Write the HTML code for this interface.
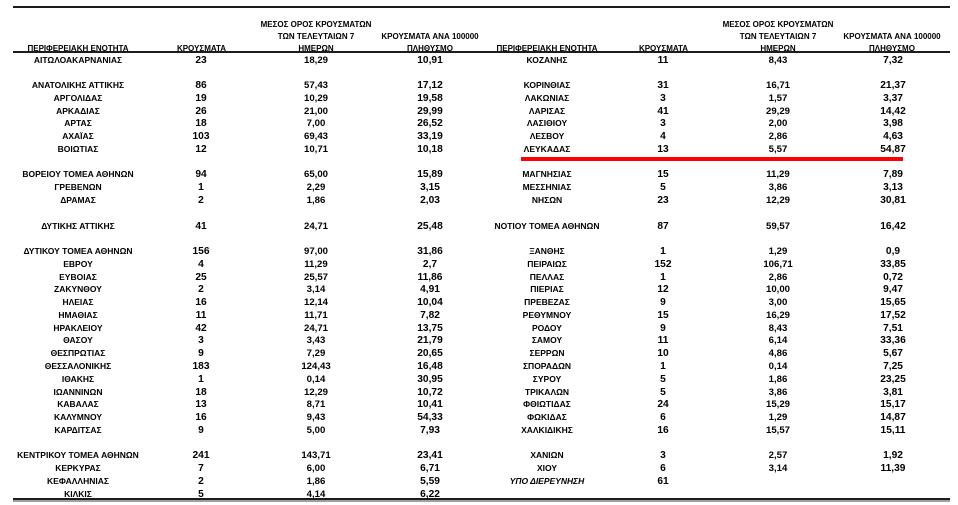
<!DOCTYPE html>
<html>
<head>
<meta charset="utf-8">
<style>
  html,body{margin:0;padding:0;background:#fff;}
  body{width:958px;height:505px;position:relative;overflow:hidden;
       font-family:"Liberation Sans","DejaVu Sans",sans-serif;color:#000;}
  .ln{position:absolute;background:#1c1c1c;}
  .h{position:absolute;width:200px;margin-left:-100px;text-align:center;
     font-size:8px;font-weight:bold;line-height:12px;white-space:nowrap;margin-top:1.5px;}
  .row{position:absolute;height:12px;line-height:12px;font-size:10px;white-space:nowrap;font-weight:bold;}
  .L{left:0;}
  .R{left:469px;}
  .row span{display:inline-block;text-align:center;vertical-align:baseline;overflow:visible;}
  .n{font-size:8.5px;}
  .k{font-size:10.2px;}
  .m{font-size:9.6px;}
  .p{font-size:10.2px;}
  .L .n{width:156px}.L .k{width:90px}.L .m{width:140px}.L .p{width:88px}
  .R .n{width:156px}.R .k{width:76px}.R .m{width:154px}.R .p{width:76px}
  .i{font-style:italic;}
</style>
</head>
<body>
<div class="ln" style="left:13px;top:6px;width:937px;height:2px;"></div>
<div class="ln" style="left:13px;top:51px;width:937px;height:2px;"></div>
<div class="ln" style="left:13px;top:498px;width:937px;height:2px;"></div>
<div style="position:absolute;left:13px;top:500px;width:937px;height:2px;background:#a0a0a0;"></div>
<div style="position:absolute;left:521px;top:157px;width:382px;height:4px;background:#ff0000;"></div>

<!-- headers left -->
<div class="h" style="left:78px;top:41px;">ΠΕΡΙΦΕΡΕΙΑΚΗ ΕΝΟΤΗΤΑ</div>
<div class="h" style="left:201.5px;top:41px;">ΚΡΟΥΣΜΑΤΑ</div>
<div class="h" style="left:316px;top:17px;">ΜΕΣΟΣ ΟΡΟΣ ΚΡΟΥΣΜΑΤΩΝ</div>
<div class="h" style="left:316px;top:29px;">ΤΩΝ ΤΕΛΕΥΤΑΙΩΝ 7</div>
<div class="h" style="left:316px;top:41px;">ΗΜΕΡΩΝ</div>
<div class="h" style="left:430px;top:29px;">ΚΡΟΥΣΜΑΤΑ ΑΝΑ 100000</div>
<div class="h" style="left:430px;top:41px;">ΠΛΗΘΥΣΜΟ</div>
<!-- headers right -->
<div class="h" style="left:547px;top:41px;">ΠΕΡΙΦΕΡΕΙΑΚΗ ΕΝΟΤΗΤΑ</div>
<div class="h" style="left:663.5px;top:41px;">ΚΡΟΥΣΜΑΤΑ</div>
<div class="h" style="left:778px;top:17px;">ΜΕΣΟΣ ΟΡΟΣ ΚΡΟΥΣΜΑΤΩΝ</div>
<div class="h" style="left:778px;top:29px;">ΤΩΝ ΤΕΛΕΥΤΑΙΩΝ 7</div>
<div class="h" style="left:778px;top:41px;">ΗΜΕΡΩΝ</div>
<div class="h" style="left:892px;top:29px;">ΚΡΟΥΣΜΑΤΑ ΑΝΑ 100000</div>
<div class="h" style="left:892px;top:41px;">ΠΛΗΘΥΣΜΟ</div>

<!-- left rows -->
<div class="row L" style="top:53.5px"><span class="n">ΑΙΤΩΛΟΑΚΑΡΝΑΝΙΑΣ</span><span class="k">23</span><span class="m">18,29</span><span class="p">10,91</span></div>
<div class="row L" style="top:79px"><span class="n">ΑΝΑΤΟΛΙΚΗΣ ΑΤΤΙΚΗΣ</span><span class="k">86</span><span class="m">57,43</span><span class="p">17,12</span></div>
<div class="row L" style="top:91.8px"><span class="n">ΑΡΓΟΛΙΔΑΣ</span><span class="k">19</span><span class="m">10,29</span><span class="p">19,58</span></div>
<div class="row L" style="top:104.6px"><span class="n">ΑΡΚΑΔΙΑΣ</span><span class="k">26</span><span class="m">21,00</span><span class="p">29,99</span></div>
<div class="row L" style="top:117.4px"><span class="n">ΑΡΤΑΣ</span><span class="k">18</span><span class="m">7,00</span><span class="p">26,52</span></div>
<div class="row L" style="top:130.1px"><span class="n">ΑΧΑΪΑΣ</span><span class="k">103</span><span class="m">69,43</span><span class="p">33,19</span></div>
<div class="row L" style="top:142.9px"><span class="n">ΒΟΙΩΤΙΑΣ</span><span class="k">12</span><span class="m">10,71</span><span class="p">10,18</span></div>
<div class="row L" style="top:168.4px"><span class="n">ΒΟΡΕΙΟΥ ΤΟΜΕΑ ΑΘΗΝΩΝ</span><span class="k">94</span><span class="m">65,00</span><span class="p">15,89</span></div>
<div class="row L" style="top:181.2px"><span class="n">ΓΡΕΒΕΝΩΝ</span><span class="k">1</span><span class="m">2,29</span><span class="p">3,15</span></div>
<div class="row L" style="top:194px"><span class="n">ΔΡΑΜΑΣ</span><span class="k">2</span><span class="m">1,86</span><span class="p">2,03</span></div>
<div class="row L" style="top:219.5px"><span class="n">ΔΥΤΙΚΗΣ ΑΤΤΙΚΗΣ</span><span class="k">41</span><span class="m">24,71</span><span class="p">25,48</span></div>
<div class="row L" style="top:245px"><span class="n">ΔΥΤΙΚΟΥ ΤΟΜΕΑ ΑΘΗΝΩΝ</span><span class="k">156</span><span class="m">97,00</span><span class="p">31,86</span></div>
<div class="row L" style="top:257.8px"><span class="n">ΕΒΡΟΥ</span><span class="k">4</span><span class="m">11,29</span><span class="p">2,7</span></div>
<div class="row L" style="top:270.6px"><span class="n">ΕΥΒΟΙΑΣ</span><span class="k">25</span><span class="m">25,57</span><span class="p">11,86</span></div>
<div class="row L" style="top:283.4px"><span class="n">ΖΑΚΥΝΘΟΥ</span><span class="k">2</span><span class="m">3,14</span><span class="p">4,91</span></div>
<div class="row L" style="top:296.1px"><span class="n">ΗΛΕΙΑΣ</span><span class="k">16</span><span class="m">12,14</span><span class="p">10,04</span></div>
<div class="row L" style="top:308.9px"><span class="n">ΗΜΑΘΙΑΣ</span><span class="k">11</span><span class="m">11,71</span><span class="p">7,82</span></div>
<div class="row L" style="top:321.7px"><span class="n">ΗΡΑΚΛΕΙΟΥ</span><span class="k">42</span><span class="m">24,71</span><span class="p">13,75</span></div>
<div class="row L" style="top:334.4px"><span class="n">ΘΑΣΟΥ</span><span class="k">3</span><span class="m">3,43</span><span class="p">21,79</span></div>
<div class="row L" style="top:347.2px"><span class="n">ΘΕΣΠΡΩΤΙΑΣ</span><span class="k">9</span><span class="m">7,29</span><span class="p">20,65</span></div>
<div class="row L" style="top:360px"><span class="n">ΘΕΣΣΑΛΟΝΙΚΗΣ</span><span class="k">183</span><span class="m">124,43</span><span class="p">16,48</span></div>
<div class="row L" style="top:372.8px"><span class="n">ΙΘΑΚΗΣ</span><span class="k">1</span><span class="m">0,14</span><span class="p">30,95</span></div>
<div class="row L" style="top:385.5px"><span class="n">ΙΩΑΝΝΙΝΩΝ</span><span class="k">18</span><span class="m">12,29</span><span class="p">10,72</span></div>
<div class="row L" style="top:398.3px"><span class="n">ΚΑΒΑΛΑΣ</span><span class="k">13</span><span class="m">8,71</span><span class="p">10,41</span></div>
<div class="row L" style="top:411.1px"><span class="n">ΚΑΛΥΜΝΟΥ</span><span class="k">16</span><span class="m">9,43</span><span class="p">54,33</span></div>
<div class="row L" style="top:423.8px"><span class="n">ΚΑΡΔΙΤΣΑΣ</span><span class="k">9</span><span class="m">5,00</span><span class="p">7,93</span></div>
<div class="row L" style="top:449.4px"><span class="n">ΚΕΝΤΡΙΚΟΥ ΤΟΜΕΑ ΑΘΗΝΩΝ</span><span class="k">241</span><span class="m">143,71</span><span class="p">23,41</span></div>
<div class="row L" style="top:462.1px"><span class="n">ΚΕΡΚΥΡΑΣ</span><span class="k">7</span><span class="m">6,00</span><span class="p">6,71</span></div>
<div class="row L" style="top:474.9px"><span class="n">ΚΕΦΑΛΛΗΝΙΑΣ</span><span class="k">2</span><span class="m">1,86</span><span class="p">5,59</span></div>
<div class="row L" style="top:487.7px"><span class="n">ΚΙΛΚΙΣ</span><span class="k">5</span><span class="m">4,14</span><span class="p">6,22</span></div>

<!-- right rows -->
<div class="row R" style="top:53.5px"><span class="n">ΚΟΖΑΝΗΣ</span><span class="k">11</span><span class="m">8,43</span><span class="p">7,32</span></div>
<div class="row R" style="top:79px"><span class="n">ΚΟΡΙΝΘΙΑΣ</span><span class="k">31</span><span class="m">16,71</span><span class="p">21,37</span></div>
<div class="row R" style="top:91.8px"><span class="n">ΛΑΚΩΝΙΑΣ</span><span class="k">3</span><span class="m">1,57</span><span class="p">3,37</span></div>
<div class="row R" style="top:104.6px"><span class="n">ΛΑΡΙΣΑΣ</span><span class="k">41</span><span class="m">29,29</span><span class="p">14,42</span></div>
<div class="row R" style="top:117.4px"><span class="n">ΛΑΣΙΘΙΟΥ</span><span class="k">3</span><span class="m">2,00</span><span class="p">3,98</span></div>
<div class="row R" style="top:130.1px"><span class="n">ΛΕΣΒΟΥ</span><span class="k">4</span><span class="m">2,86</span><span class="p">4,63</span></div>
<div class="row R" style="top:142.9px"><span class="n">ΛΕΥΚΑΔΑΣ</span><span class="k">13</span><span class="m">5,57</span><span class="p">54,87</span></div>
<div class="row R" style="top:168.4px"><span class="n">ΜΑΓΝΗΣΙΑΣ</span><span class="k">15</span><span class="m">11,29</span><span class="p">7,89</span></div>
<div class="row R" style="top:181.2px"><span class="n">ΜΕΣΣΗΝΙΑΣ</span><span class="k">5</span><span class="m">3,86</span><span class="p">3,13</span></div>
<div class="row R" style="top:194px"><span class="n">ΝΗΣΩΝ</span><span class="k">23</span><span class="m">12,29</span><span class="p">30,81</span></div>
<div class="row R" style="top:219.5px"><span class="n">ΝΟΤΙΟΥ ΤΟΜΕΑ ΑΘΗΝΩΝ</span><span class="k">87</span><span class="m">59,57</span><span class="p">16,42</span></div>
<div class="row R" style="top:245px"><span class="n">ΞΑΝΘΗΣ</span><span class="k">1</span><span class="m">1,29</span><span class="p">0,9</span></div>
<div class="row R" style="top:257.8px"><span class="n">ΠΕΙΡΑΙΩΣ</span><span class="k">152</span><span class="m">106,71</span><span class="p">33,85</span></div>
<div class="row R" style="top:270.6px"><span class="n">ΠΕΛΛΑΣ</span><span class="k">1</span><span class="m">2,86</span><span class="p">0,72</span></div>
<div class="row R" style="top:283.4px"><span class="n">ΠΙΕΡΙΑΣ</span><span class="k">12</span><span class="m">10,00</span><span class="p">9,47</span></div>
<div class="row R" style="top:296.1px"><span class="n">ΠΡΕΒΕΖΑΣ</span><span class="k">9</span><span class="m">3,00</span><span class="p">15,65</span></div>
<div class="row R" style="top:308.9px"><span class="n">ΡΕΘΥΜΝΟΥ</span><span class="k">15</span><span class="m">16,29</span><span class="p">17,52</span></div>
<div class="row R" style="top:321.7px"><span class="n">ΡΟΔΟΥ</span><span class="k">9</span><span class="m">8,43</span><span class="p">7,51</span></div>
<div class="row R" style="top:334.4px"><span class="n">ΣΑΜΟΥ</span><span class="k">11</span><span class="m">6,14</span><span class="p">33,36</span></div>
<div class="row R" style="top:347.2px"><span class="n">ΣΕΡΡΩΝ</span><span class="k">10</span><span class="m">4,86</span><span class="p">5,67</span></div>
<div class="row R" style="top:360px"><span class="n">ΣΠΟΡΑΔΩΝ</span><span class="k">1</span><span class="m">0,14</span><span class="p">7,25</span></div>
<div class="row R" style="top:372.8px"><span class="n">ΣΥΡΟΥ</span><span class="k">5</span><span class="m">1,86</span><span class="p">23,25</span></div>
<div class="row R" style="top:385.5px"><span class="n">ΤΡΙΚΑΛΩΝ</span><span class="k">5</span><span class="m">3,86</span><span class="p">3,81</span></div>
<div class="row R" style="top:398.3px"><span class="n">ΦΘΙΩΤΙΔΑΣ</span><span class="k">24</span><span class="m">15,29</span><span class="p">15,17</span></div>
<div class="row R" style="top:411.1px"><span class="n">ΦΩΚΙΔΑΣ</span><span class="k">6</span><span class="m">1,29</span><span class="p">14,87</span></div>
<div class="row R" style="top:423.8px"><span class="n">ΧΑΛΚΙΔΙΚΗΣ</span><span class="k">16</span><span class="m">15,57</span><span class="p">15,11</span></div>
<div class="row R" style="top:449.4px"><span class="n">ΧΑΝΙΩΝ</span><span class="k">3</span><span class="m">2,57</span><span class="p">1,92</span></div>
<div class="row R" style="top:462.1px"><span class="n">ΧΙΟΥ</span><span class="k">6</span><span class="m">3,14</span><span class="p">11,39</span></div>
<div class="row R" style="top:474.9px"><span class="n i">ΥΠΟ ΔΙΕΡΕΥΝΗΣΗ</span><span class="k">61</span></div>
</body>
</html>
